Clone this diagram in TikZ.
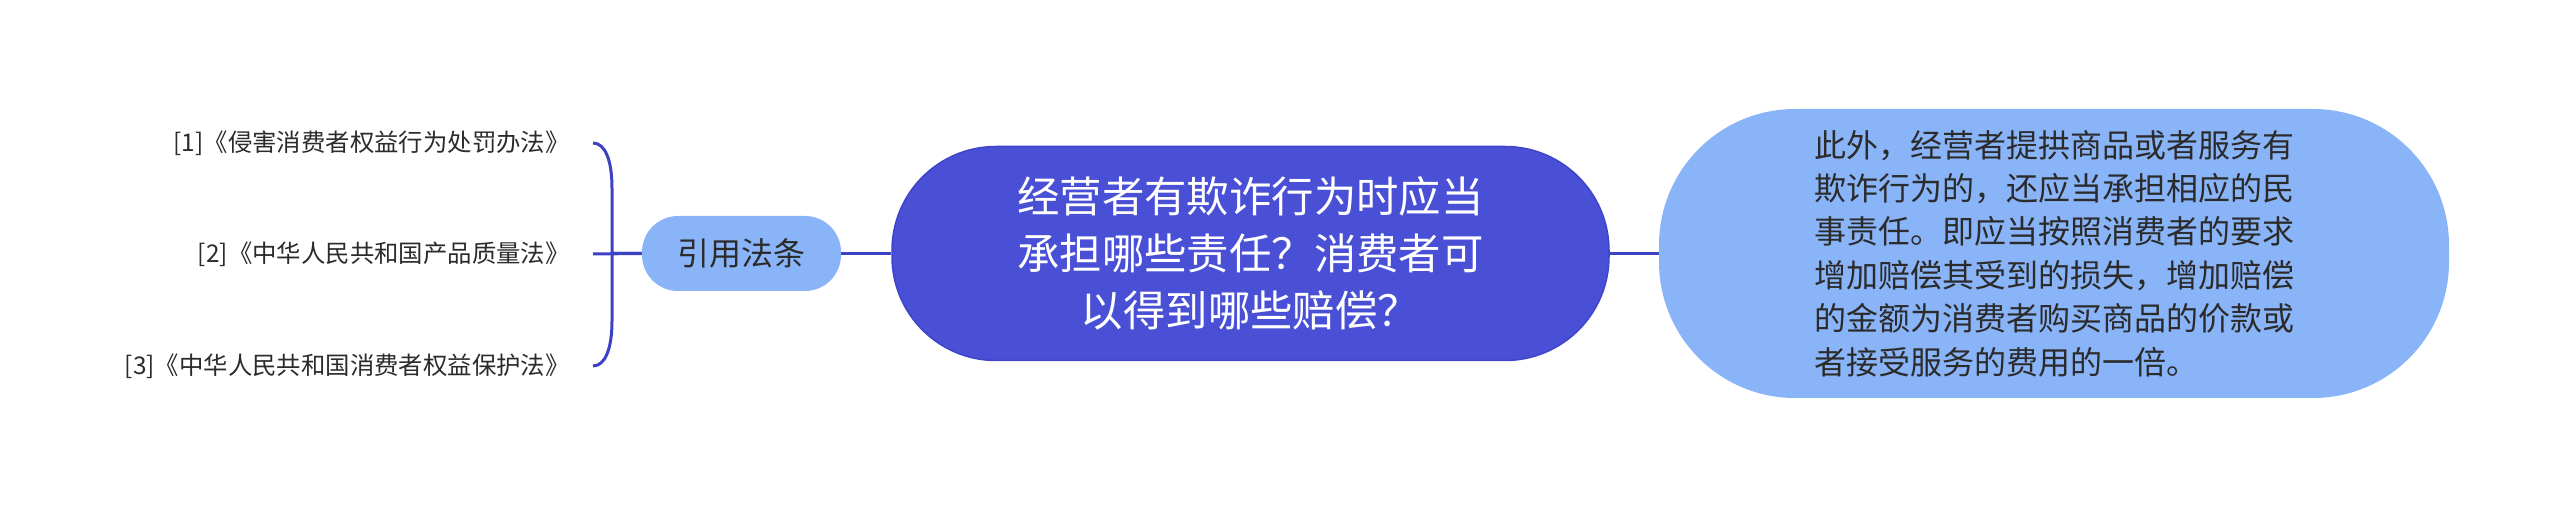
\documentclass[tikz,border=0pt]{standalone}
\usepackage{fontspec}
\setmainfont{Noto Sans CJK SC}
\definecolor{mainfill}{HTML}{4A50D6}
\definecolor{mainedge}{HTML}{3F44C8}
\definecolor{subfill}{HTML}{8AB4F8}
\definecolor{conncol}{HTML}{3D42C4}
\definecolor{txt}{HTML}{2B2B2B}
\tikzset{
  conn/.style={draw=conncol, line width=1.5pt},
  leaf/.style={anchor=east, inner xsep=11.5pt, inner ysep=2pt, text=txt,
    font=\fontsize{12.2pt}{15pt}\selectfont},
  refbox/.style={fill=subfill, text=txt, rounded corners=18pt,
    minimum width=99.5pt, minimum height=37.5pt, inner sep=0pt,
    font=\fontsize{16pt}{20pt}\selectfont},
  mainbox/.style={fill=mainfill, draw=mainedge, line width=0.75pt,
    rounded corners=52pt, minimum width=358.5pt, minimum height=107pt,
    inner sep=0pt, text=white, align=center,
    font=\fontsize{21.2pt}{28.5pt}\selectfont},
  notebox/.style={fill=subfill, text=txt, rounded corners=68pt,
    minimum width=395pt, minimum height=144.5pt, inner sep=0pt, align=left,
    font=\fontsize{16pt}{21.7pt}\selectfont}
}
\begin{document}
\begin{tikzpicture}[x=0.5pt,y=-0.5pt]
\useasboundingbox (0,0) rectangle (2560,507);

\node[leaf] (l1) at (593,143) {[1]《侵害消费者权益行为处罚办法》};
\node[leaf] (l2) at (593,254) {[2]《中华人民共和国产品质量法》};
\node[leaf] (l3) at (593,366) {[3]《中华人民共和国消费者权益保护法》};

\node[refbox] (ref) at (741.5,253.5) {引用法条};

\node[mainbox] (main) at (1250.5,253.5) {经营者有欺诈行为时应当\\承担哪些责任？消费者可\\以得到哪些赔偿？};

\node[notebox] (note) at (2054,253.5) {此外，经营者提拱商品或者服务有\\欺诈行为的，还应当承担相应的民\\事责任。即应当按照消费者的要求\\增加赔偿其受到的损失，增加赔偿\\的金额为消费者购买商品的价款或\\者接受服务的费用的一倍。};

\draw[conn] (ref.west) -- (l2.east);
\draw[conn] (ref.west) -- (612,253.5) -- (612,188) .. controls (612,160) and (605,143) .. (l1.east);
\draw[conn] (ref.west) -- (612,253.5) -- (612,321) .. controls (612,349) and (605,366) .. (l3.east);
\draw[conn] (ref.east) -- (main.west);
\draw[conn] (main.east) -- (note.west);
\end{tikzpicture}
\end{document}
